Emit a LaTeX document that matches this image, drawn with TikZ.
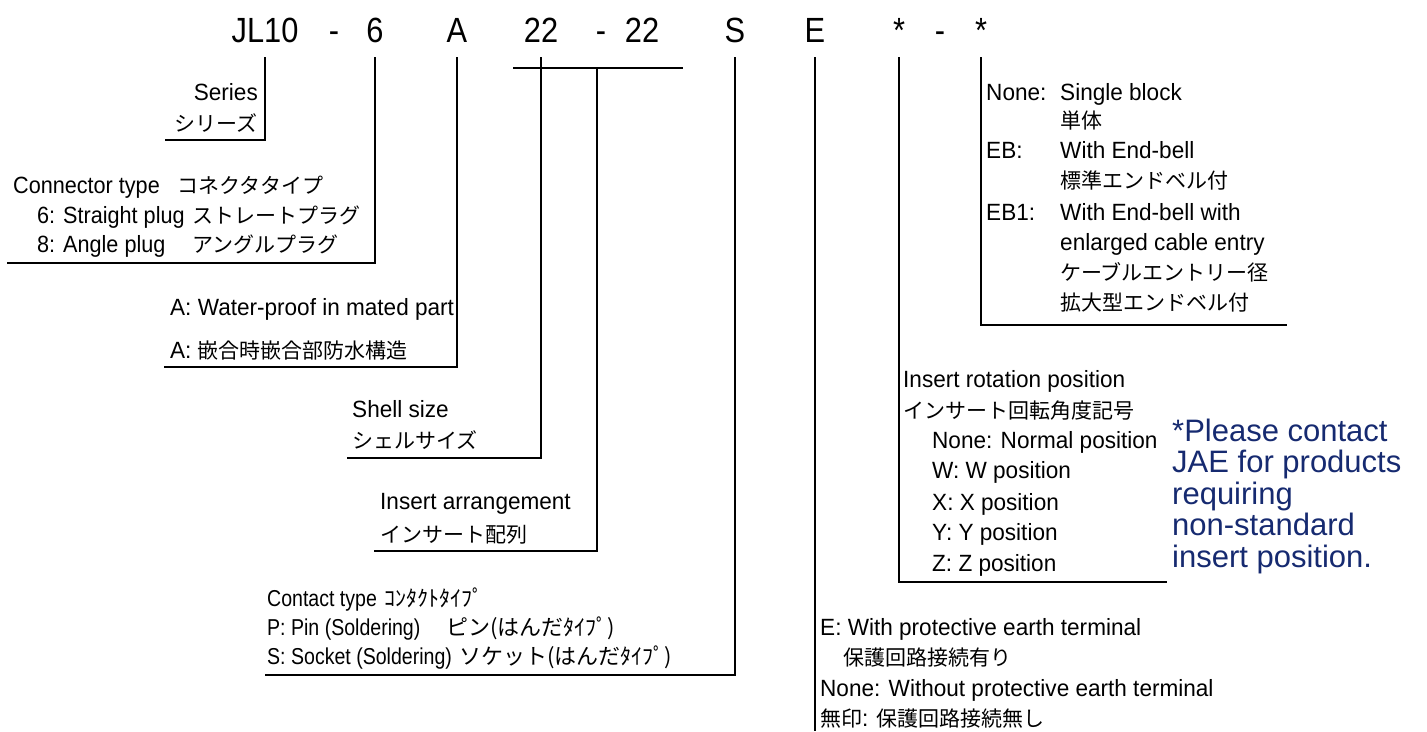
\documentclass[tikz,border=0pt]{standalone}
\usepackage{fontspec}
\setmainfont{Liberation Sans}[FakeStretch=0.96]
\newfontfamily\hdfont{Liberation Sans}[FakeStretch=0.88]
\newfontfamily\cfont{Liberation Sans}[FakeStretch=0.92]
\newfontfamily\narrowfont{Liberation Sans}[FakeStretch=0.85]
\newfontfamily\bluefont{Liberation Sans}
\newfontfamily\jpfont{Noto Sans CJK JP}
\definecolor{jaeblue}{RGB}{22,42,112}
\newcommand\jp[1]{{\jpfont\fontsize{21pt}{30pt}\selectfont #1}}
\newcommand\jpc[1]{{\jpfont\fontsize{22pt}{30pt}\selectfont #1}}
\begin{document}
\begin{tikzpicture}[x=1pt,y=-1pt,
  lbl/.style={anchor=base west,inner sep=0pt,font=\fontsize{23.5pt}{30pt}\selectfont},
  lble/.style={anchor=base east,inner sep=0pt,font=\fontsize{23.5pt}{30pt}\selectfont},
  lblc/.style={anchor=base west,inner sep=0pt,font=\cfont\fontsize{23.5pt}{30pt}\selectfont},
  lbln/.style={anchor=base west,inner sep=0pt,font=\narrowfont\fontsize{23pt}{30pt}\selectfont},
  hd/.style={anchor=base,inner sep=0pt,font=\hdfont\fontsize{35pt}{38pt}\selectfont},
  note/.style={anchor=base west,inner sep=0pt,text=jaeblue,font=\bluefont\fontsize{31pt}{32pt}\selectfont},
  ln/.style={line width=2.8pt}]
\useasboundingbox (0,0) rectangle (1427,731);
% header
\node[hd] (hJL) at (265,42) {JL10};
\node[hd] (hd1) at (334,42) {-};
\node[hd] (h6) at (375,42) {6};
\node[hd] (hA) at (457,42) {A};
\node[hd] (h22a) at (541,42) {22};
\node[hd] (hd2) at (601,42) {-};
\node[hd] (h22b) at (642,42) {22};
\node[hd] (hS) at (735,42) {S};
\node[hd] (hE) at (815,42) {E};
\node[hd] (hsa) at (899,42) {*};
\node[hd] (hd3) at (940,42) {-};
\node[hd] (hsb) at (981,42) {*};
\coordinate (top) at (0,57);
\coordinate (bot) at (0,731);
% Series
\node[lble] (s1) at (258,100) {Series};
\node[lble] (s2) at (258,131) {\jp{シリーズ}};
\coordinate (sr) at (165,140);
\draw[ln] (hJL |- top) |- (sr);
% Connector type
\node[lblc] (c1) at (13,193) {Connector type};
\node[lblc] (c1j) at (177,193) {\jp{コネクタタイプ}};
\node[lblc] (c2) at (37,223) {6: Straight plug};
\node[lblc] (c2j) at (192,223) {\jp{ストレートプラグ}};
\node[lblc] (c3) at (37,252) {8: Angle plug};
\node[lblc] (c3j) at (192,252) {\jp{アングルプラグ}};
\coordinate (cr) at (7,263);
\draw[ln] (h6 |- top) |- (cr);
% A
\node[lbl] (a1) at (170,315) {A: Water-proof in mated part};
\node[lbl] (a2) at (170,358) {A: \jp{嵌合時嵌合部防水構造}};
\coordinate (ar) at (164,367);
\draw[ln] (hA |- top) |- (ar);
% Shell size
\node[lbl] (sh1) at (352,417) {Shell size};
\node[lbl] (sh2) at (352,448) {\jp{シェルサイズ}};
\coordinate (shr) at (347,458);
\draw[ln] (h22a |- top) |- (shr);
% bar and insert arrangement
\coordinate (bl) at (513,68);
\coordinate (br) at (683,68);
\coordinate (ia) at (597,68);
\draw[ln] (bl) -- (br);
\node[lbl] (i1) at (380,509) {Insert arrangement};
\node[lbl] (i2) at (380,542) {\jp{インサート配列}};
\coordinate (iar) at (374,551);
\draw[ln] (ia) |- (iar);
% Contact type
\node[lbln] (t1) at (267,606) {Contact type};
\node[lbln] (t1j) at (384,606) {\jpc{ｺﾝﾀｸﾄﾀｲﾌﾟ}};
\node[lbln] (t2) at (267,635) {P: Pin (Soldering)};
\node[lbln] (t2j) at (446,635) {\jpc{ピン(はんだﾀｲﾌﾟ)}};
\node[lbln] (t3) at (267,664) {S: Socket (Soldering)};
\node[lbln] (t3j) at (459,664) {\jpc{ソケット(はんだﾀｲﾌﾟ)}};
\coordinate (ctr) at (265,675);
\draw[ln] (hS |- top) |- (ctr);
% E
\node[lbl] (e1) at (820,635) {E: With protective earth terminal};
\node[lbl] (e2) at (843,665) {\jp{保護回路接続有り}};
\node[lbl] (e3) at (820,696) {None: Without protective earth terminal};
\node[lbl] (e4) at (820,726) {\jp{無印}: \jp{保護回路接続無し}};
\draw[ln] (hE |- top) -- (hE |- bot);
% Insert rotation
\node[lbl] (r1) at (903,387) {Insert rotation position};
\node[lbl] (r2) at (903,418) {\jp{インサート回転角度記号}};
\node[lbl] (r3) at (932,448) {None: Normal position};
\node[lbl] (r4) at (932,478) {W: W position};
\node[lbl] (r5) at (932,510) {X: X position};
\node[lbl] (r6) at (932,540) {Y: Y position};
\node[lbl] (r7) at (932,571) {Z: Z position};
\coordinate (rr) at (1167,582);
\draw[ln] (hsa |- top) |- (rr);
% End-bell
\node[lbl] (b1) at (986,100) {None:};
\node[lbl] (b1t) at (1060,100) {Single block};
\node[lbl] (b2) at (1060,128) {\jp{単体}};
\node[lbl] (b3) at (986,158) {EB:};
\node[lbl] (b3t) at (1060,158) {With End-bell};
\node[lbl] (b4) at (1060,188) {\jp{標準エンドベル付}};
\node[lbl] (b5) at (986,220) {EB1:};
\node[lbl] (b5t) at (1060,220) {With End-bell with};
\node[lbl] (b6) at (1060,250) {enlarged cable entry};
\node[lbl] (b7) at (1060,280) {\jp{ケーブルエントリー径}};
\node[lbl] (b8) at (1060,310) {\jp{拡大型エンドベル付}};
\coordinate (er) at (1287,325);
\draw[ln] (hsb |- top) |- (er);
% note
\node[note] (n1) at (1172,441) {*Please contact};
\node[note] (n2) at (1172,472) {JAE for products};
\node[note] (n3) at (1172,504) {requiring};
\node[note] (n4) at (1172,535) {non-standard};
\node[note] (n5) at (1172,567) {insert position.};
\end{tikzpicture}
\end{document}
